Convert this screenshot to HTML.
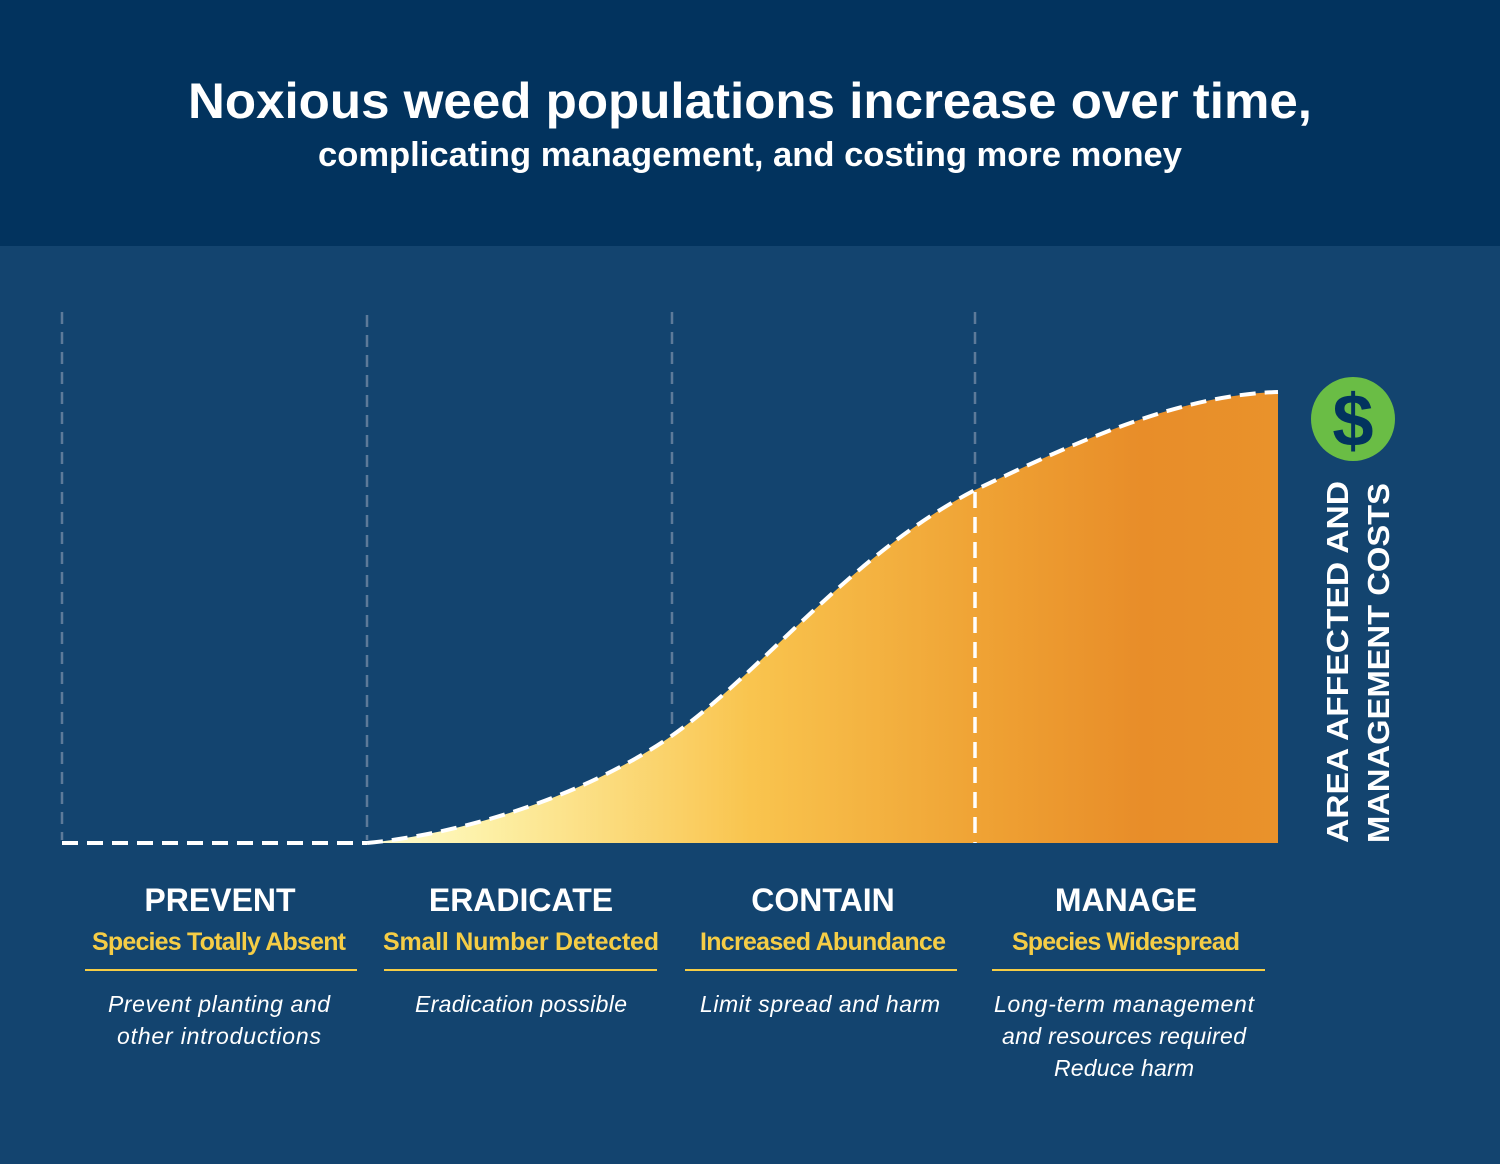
<!DOCTYPE html>
<html><head><meta charset="utf-8"><style>
html,body{margin:0;padding:0;}
body{width:1500px;height:1159px;overflow:hidden;background:#13446f;font-family:"Liberation Sans",sans-serif;}
</style></head><body>
<svg width="1500" height="1159" viewBox="0 0 1500 1159" xmlns="http://www.w3.org/2000/svg" font-family="Liberation Sans, DejaVu Sans, sans-serif">
<defs>
<linearGradient id="g" x1="370" y1="0" x2="1278" y2="0" gradientUnits="userSpaceOnUse">
<stop offset="0" stop-color="#fffdd0"/>
<stop offset="0.12" stop-color="#fdf1a8"/>
<stop offset="0.42" stop-color="#f9c44e"/>
<stop offset="0.7" stop-color="#ee9f32"/>
<stop offset="0.85" stop-color="#e88d29"/>
<stop offset="1" stop-color="#e9922b"/>
</linearGradient>
</defs>
<rect x="0" y="0" width="1500" height="246" fill="#02335e"/>
<rect x="0" y="246" width="1500" height="913" fill="#13446f"/>
<text x="750" y="118" text-anchor="middle" fill="#fff" font-size="50" font-weight="bold" textLength="1124" lengthAdjust="spacingAndGlyphs">Noxious weed populations increase over time,</text>
<text x="750" y="166" text-anchor="middle" fill="#fff" font-size="34" font-weight="bold" textLength="864" lengthAdjust="spacingAndGlyphs">complicating management, and costing more money</text>
<g stroke="#5d7a99" stroke-width="2.5" stroke-dasharray="12,8">
<line x1="62" y1="312" x2="62" y2="840"/>
<line x1="367" y1="315" x2="367" y2="840"/>
<line x1="672" y1="312" x2="672" y2="730"/>
<line x1="975" y1="312" x2="975" y2="490"/>
</g>
<path d="M367,843 C450,835 560,805 650,750 C750,690 840,560 975,490 C1080,440 1180,395 1278,392 L1278,843 Z" fill="url(#g)"/>
<path d="M367,843 C450,835 560,805 650,750 C750,690 840,560 975,490 C1080,440 1180,395 1278,392" fill="none" stroke="#fff" stroke-width="4" stroke-dasharray="16,9"/>
<line x1="62" y1="843" x2="367" y2="843" stroke="#fff" stroke-width="4" stroke-dasharray="16,9"/>
<line x1="975" y1="492" x2="975" y2="843" stroke="#fff" stroke-width="3.5" stroke-dasharray="16,9"/>
<circle cx="1353" cy="419" r="42" fill="#6abd45"/>
<text x="1353" y="446" text-anchor="middle" fill="#02335e" font-size="74" font-weight="bold">$</text>
<g transform="translate(1348,843) rotate(-90)"><text x="0" y="0" fill="#fff" font-size="31" font-weight="bold" textLength="362" lengthAdjust="spacingAndGlyphs">AREA AFFECTED AND</text></g>
<g transform="translate(1389,843) rotate(-90)"><text x="0" y="0" fill="#fff" font-size="31" font-weight="bold" textLength="360" lengthAdjust="spacingAndGlyphs">MANAGEMENT COSTS</text></g>
<g text-anchor="middle">
<g font-size="32" font-weight="bold" fill="#fff">
<text x="220" y="911">PREVENT</text>
<text x="521" y="911">ERADICATE</text>
<text x="823" y="911">CONTAIN</text>
<text x="1126" y="911">MANAGE</text>
</g>
<g font-size="25" font-weight="bold" fill="#f5cd46">
<text x="219" y="950" textLength="254">Species Totally Absent</text>
<text x="521" y="950" textLength="276">Small Number Detected</text>
<text x="823" y="950" textLength="246">Increased Abundance</text>
<text x="1126" y="950" textLength="228">Species Widespread</text>
</g>
<g stroke="#f5cd46" stroke-width="2">
<line x1="85" y1="970" x2="357" y2="970"/>
<line x1="384" y1="970" x2="657" y2="970"/>
<line x1="685" y1="970" x2="957" y2="970"/>
<line x1="992" y1="970" x2="1265" y2="970"/>
</g>
<g font-size="23" font-style="italic" fill="#fff">
<text x="219" y="1012" textLength="222">Prevent planting and</text>
<text x="219" y="1044" textLength="204">other introductions</text>
<text x="521" y="1012" textLength="212">Eradication possible</text>
<text x="820" y="1012" textLength="240">Limit spread and harm</text>
<text x="1124" y="1012" textLength="260">Long-term management</text>
<text x="1124" y="1044" textLength="244">and resources required</text>
<text x="1124" y="1076" textLength="140">Reduce harm</text>
</g>
</g>
</svg>
</body></html>
